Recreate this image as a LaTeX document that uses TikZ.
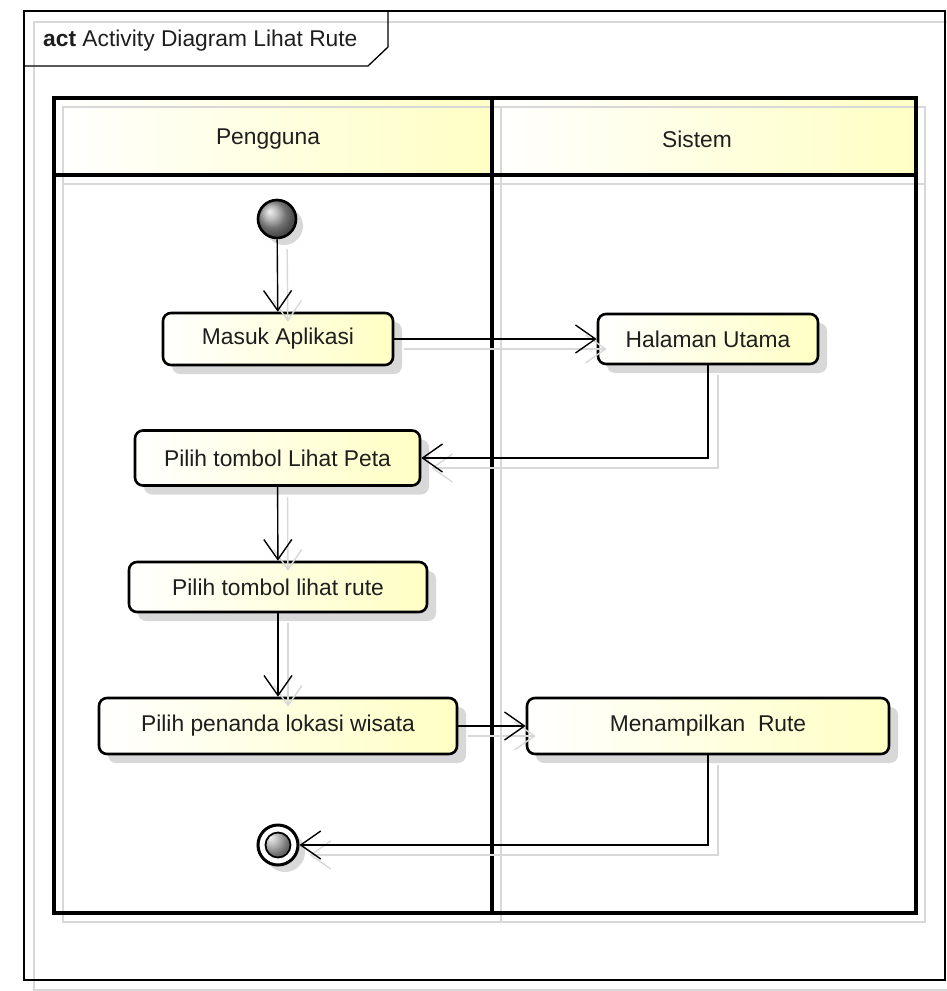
\documentclass[tikz,border=0pt]{standalone}
\usepackage{fontspec}
\setmainfont{Liberation Sans}
\usetikzlibrary{arrows.meta,shadows}
\definecolor{lightyel}{RGB}{255,255,196}
\definecolor{shadowgray}{RGB}{216,216,216}
\definecolor{labelink}{RGB}{30,30,30}
\begin{document}
\begin{tikzpicture}[x=1pt,y=-1pt,
  font=\fontsize{22.8}{27}\selectfont, text=labelink,
  actbox/.style={rectangle, rounded corners=8pt, draw=black, line width=2.6pt,
    inner sep=0pt, left color=white, right color=lightyel,
    drop shadow={shadow xshift=9pt, shadow yshift=-9pt, fill=shadowgray, opacity=1}},
  initnode/.style={circle, draw=black, line width=2.6pt, minimum size=38pt, inner sep=0pt,
    ball color=gray!75,
    drop shadow={shadow xshift=7pt, shadow yshift=-7pt, fill=shadowgray, opacity=1}},
  finalnode/.style={circle, draw=black, line width=3pt, minimum size=40pt, inner sep=0pt,
    fill=white,
    drop shadow={shadow xshift=7pt, shadow yshift=-7pt, fill=shadowgray, opacity=1},
    path picture={\shade[ball color=gray!75, draw=black, line width=1.8pt]
      (path picture bounding box.center) circle (12.5pt);}},
  flow/.style={draw=black, line width=1.4pt, -{Straight Barb[length=20pt,width=28pt]}},
  flowshadow/.style={draw=shadowgray, line width=1.4pt, -{Straight Barb[length=20pt,width=28pt]},
    transform canvas={xshift=10pt,yshift=-10pt}},
  lane/.style={draw=black, line width=3.4pt},
  laneshadow/.style={draw=shadowgray, line width=2.4pt},
  framestyle/.style={draw=black, line width=1.3pt},
  frameshadow/.style={draw=shadowgray, line width=1.3pt}]

\useasboundingbox (0,0) rectangle (947,991);

% diagram frame with its title tab
\draw[frameshadow] (34,22) rectangle (956,990);
\draw[framestyle] (24,11) rectangle (945,980);
\draw[framestyle] (24,66) -- (368,66) -- (388,47) -- (388,11);
\node[anchor=west, inner sep=0pt] (title) at (43,41) {\textbf{act} Activity Diagram Lihat Rute};

% swimlane headers
\shade[left color=white, right color=lightyel] (54,98) rectangle (492,175);
\shade[left color=white, right color=lightyel] (492,98) rectangle (916,175);
\node (lanea) at (268,139) {Pengguna};
\node (laneb) at (697,139) {Sistem};

% swimlane outline (shadow, then border)
\draw[laneshadow] (63,107) rectangle (925,922);
\draw[laneshadow] (63,184) -- (925,184);
\draw[laneshadow] (501,107) -- (501,922);
\draw[lane] (54,98) rectangle (916,913);
\draw[lane] (54,175) -- (916,175);
\draw[lane] (492,98) -- (492,913);

% activities
\node[initnode] (start) at (277,219) {};
\node[actbox, minimum width=230pt, minimum height=52pt] (masuk) at (278,339) {Masuk Aplikasi};
\node[actbox, minimum width=220pt, minimum height=50pt] (halaman) at (708,339) {Halaman Utama};
\node[actbox, minimum width=285pt, minimum height=55pt] (peta) at (277.5,458) {Pilih tombol Lihat Peta};
\node[actbox, minimum width=298pt, minimum height=50pt] (rute) at (278,587) {Pilih tombol lihat rute};
\node[actbox, minimum width=358pt, minimum height=56pt] (penanda) at (278,726) {Pilih penanda lokasi wisata};
\node[actbox, minimum width=362pt, minimum height=56pt] (tampil) at (708,726) {Menampilkan\ \ Rute};
\node[finalnode] (end) at (278,845) {};

% control flows: soft shadows first, then the flows
\draw[flowshadow] (start) -- (masuk);
\draw[flowshadow] (masuk) -- (halaman);
\draw[flowshadow] (halaman.south) |- (peta.east);
\draw[flowshadow] (peta) -- (rute);
\draw[flowshadow] (rute) -- (penanda);
\draw[flowshadow] (penanda) -- (tampil);
\draw[flowshadow] (tampil.south) |- (end.east);

\draw[flow] (start) -- (masuk);
\draw[flow] (masuk) -- (halaman);
\draw[flow] (halaman.south) |- (peta.east);
\draw[flow] (peta) -- (rute);
\draw[flow] (rute) -- (penanda);
\draw[flow] (penanda) -- (tampil);
\draw[flow] (tampil.south) |- (end.east);
\end{tikzpicture}
\end{document}
